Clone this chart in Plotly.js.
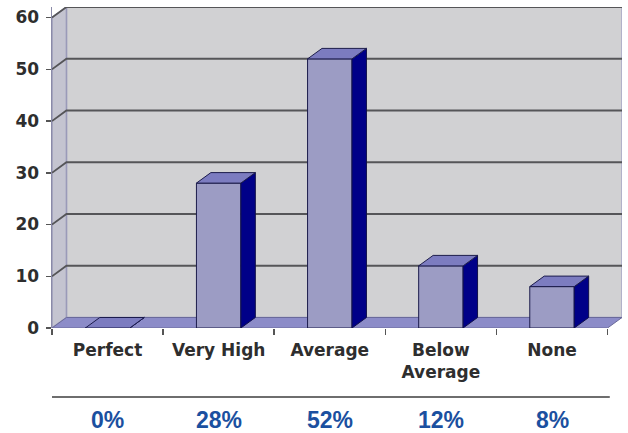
<!DOCTYPE html>
<html>
<head>
<meta charset="utf-8">
<script src="https://cdn.plot.ly/plotly-3.0.1.min.js"></script>
<style>html,body{margin:0;padding:0;background:#fff;}#chart{width:628px;height:433px;}</style>
</head>
<body>
<div id="chart"></div>
<script>
const categories = ['Perfect', 'Very High', 'Average', 'Below<br>Average', 'None'];
const values = [0, 28, 52, 12, 8];
const percentLabels = ['0%', '28%', '52%', '12%', '8%'];
const yTicks = [0, 10, 20, 30, 40, 50, 60];

const DX = 0.13, DY = 2.03, HALF = 0.2;
const idx = categories.map((_, i) => i);
const xL = -0.5, xR = categories.length - 0.5, yTop = yTicks[yTicks.length - 1];

// 3D side and top faces derived from values
const sideX = [], sideY = [], topX = [], topY = [];
values.forEach((v, i) => {
  const a = i - HALF, b = i + HALF;
  sideX.push(b, b + DX, b + DX, b, b, null);
  sideY.push(0, DY, v + DY, v, 0, null);
  topX.push(a, b, b + DX, a + DX, a, null);
  topY.push(v, v, v + DY, v + DY, v, null);
});

const P = (pts) => 'M ' + pts.map(p => p[0] + ',' + p[1]).join(' L ') + ' Z';
const shapes = [];
// back wall
shapes.push({type: 'path', xref: 'x', yref: 'y', layer: 'below',
  path: P([[xL + DX, DY], [xR + DX, DY], [xR + DX, yTop + DY], [xL + DX, yTop + DY]]),
  fillcolor: '#d1d1d3', line: {color: '#a8a8c6', width: 1.5}});
// left wall
shapes.push({type: 'path', xref: 'x', yref: 'y', layer: 'below',
  path: P([[xL, 0], [xL + DX, DY], [xL + DX, yTop + DY], [xL, yTop]]),
  fillcolor: '#c4c4d0', line: {color: '#9a9ab8', width: 1.5}});
// gridlines
yTicks.slice(1).forEach(t => {
  shapes.push({type: 'path', xref: 'x', yref: 'y', layer: 'below',
    path: 'M ' + xL + ',' + t + ' L ' + (xL + DX) + ',' + (t + DY) + ' L ' + (xR + DX) + ',' + (t + DY),
    line: {color: '#555558', width: 1.8}});
});
// floor
shapes.push({type: 'path', xref: 'x', yref: 'y', layer: 'below',
  path: P([[xL, 0], [xR, 0], [xR + DX, DY], [xL + DX, DY]]),
  fillcolor: '#8c8cc8', line: {color: '#6a6a9a', width: 1}});
// separator line above percentages
shapes.push({type: 'line', xref: 'x', yref: 'paper', x0: xL, x1: xR + 0.02, y0: -0.215, y1: -0.215,
  line: {color: '#6e6e6e', width: 2}});

const annotations = percentLabels.map((t, i) => ({
  x: i, xref: 'x', y: -0.287, yref: 'paper', text: t, showarrow: false,
  xanchor: 'center', yanchor: 'middle',
  font: {family: 'Liberation Sans, Arial, sans-serif', size: 23, color: '#1b50a0', weight: 'bold'}
}));

const traces = [
  {type: 'bar', x: idx, y: values, width: 2 * HALF,
   marker: {color: '#9c9cc4', line: {color: '#1c1c4c', width: 1}}, hoverinfo: 'skip'},
  {type: 'scatter', mode: 'lines', x: sideX, y: sideY, fill: 'toself', fillcolor: '#000088',
   line: {color: '#10104a', width: 1}, hoverinfo: 'skip'},
  {type: 'scatter', mode: 'lines', x: topX, y: topY, fill: 'toself', fillcolor: '#7c7cc0',
   line: {color: '#1c1c4c', width: 1}, hoverinfo: 'skip'}
];

const layout = {
  width: 628, height: 433,
  margin: {l: 52, r: 5.5, t: 7, b: 105},
  paper_bgcolor: '#ffffff', plot_bgcolor: '#ffffff',
  showlegend: false,
  xaxis: {range: [xL, xR + DX], tickvals: idx, ticktext: categories, ticks: '',
    showgrid: false, zeroline: false, showline: false, fixedrange: true,
    ticklabelstandoff: 10,
    tickfont: {family: 'DejaVu Sans, sans-serif', size: 17, color: '#2e2e2e', weight: 'bold'},
    minor: {tickvals: [-0.5, 0.5, 1.5, 2.5, 3.5, 4.5], ticks: 'outside', ticklen: 6, tickcolor: '#555', tickwidth: 1.5}},
  yaxis: {range: [0, yTop + DY], tickvals: yTicks, ticks: 'outside', ticklen: 5, tickcolor: '#555', tickwidth: 1.5,
    showgrid: false, zeroline: false, showline: true, linecolor: '#8a8aa8', linewidth: 1.5,
    ticklabelstandoff: 3,
    tickfont: {family: 'DejaVu Sans, sans-serif', size: 17, color: '#2e2e2e', weight: 'bold'}},
  shapes: shapes,
  annotations: annotations
};

Plotly.newPlot('chart', traces, layout, {staticPlot: true, displayModeBar: false});
</script>
</body>
</html>
